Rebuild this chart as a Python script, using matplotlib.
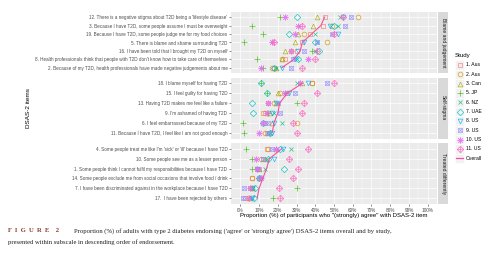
import matplotlib
matplotlib.use("Agg")
import matplotlib.pyplot as plt
from matplotlib.patches import Rectangle

# ---------------- data ----------------
subscales = ["Blame and judgement", "Self-stigma", "Treated differently"]
items_blame = [
    "12. There is a negative stigma about T2D being a 'lifestyle disease'",
    "3. Because I have T2D, some people assume I must be overweight",
    "19. Because I have T2D, some people judge me for my food choices",
    "5. There is blame and shame surrounding T2D",
    "16. I have been told that I brought my T2D on myself",
    "8. Health professionals think that people with T2D don't know how to take care of themselves",
    "2. Because of my T2D, health professionals have made negative judgements about me",
]
items_self = [
    "18. I blame myself for having T2D",
    "15. I feel guilty for having T2D",
    "13. Having T2D makes me feel like a failure",
    "9. I'm ashamed of having T2D",
    "6. I feel embarrassed because of my T2D",
    "11. Because I have T2D, I feel like I am not good enough",
]
items_treated = [
    "4. Some people treat me like I'm 'sick' or 'ill' because I have T2D",
    "10. Some people see me as a lesser person",
    "1. Some people think I cannot fulfil my responsibilities because I have T2D",
    "14. Some people exclude me from social occasions that involve food / drink",
    "7. I have been discriminated against in the workplace because I have T2D",
    "17.  I have been rejected by others",
]
study_names = ["1. Aus", "2. Aus", "3. Can", "5. JP", "6. NZ", "7. UAE",
               "8. US", "9. US", "10. US", "11. US"]

# values (%) in display order: blame (7), self-stigma (6), treated differently (6)
aus1 = [45, 44, 37, 33, 30, 24, 18, 38, 25, 15, 12, 13, 14, 14, 12, 10, 6, 5, 2.5]
aus2 = [63, 49, 34, 46, 27, 22, 17, 38, 21, 18, 13, 30, 13, 15, 11, 9, 6, 6, 4]
can = [41, 39, 31, 29, 24, 22, 19, 33, 20, 19, 16, 17, 15, 19, 13, 10, 10, 6, 5]
jp = [21, 6, 12, 2, 38, 9, 12, 11, 14, 30, 15, 1.5, 2, 3, 6, 6, 10, 30, 17.5]
nz = [53, 52, 40, 41, 40, 30, 19, 30, 24, 20, 18, 22, 16, 27, 14, 13, 11, 7, 6]
uae = [30, 50, 26, 40, 42, 31, 18, 11, 14, 6, 7, 12, 16, 21, 15, 23.5, 10, 8, 7.5]
us8 = [55, 48, 52, 34, 31, 29, 22, 36, 26, 19, 17, 18, 17, 23, 18, 9, 11, 6, 6]
us9 = [59, 56, 49, 41, 34, 28, 27, 46, 29, 20, 21, 15, 15, 17, 12, 9.5, 10, 2, 1.5]
us10 = [24, 31, 29, 17, 27, 36, 11, 32, 24, 15, 14, 12, 10, 19, 8.6, 9, 11, 5, 4.5]
us11 = [55, 33, 50, 18, 41, 40, 33, 50, 41, 34, 33, 28, 30, 36, 26, 31, 28, 20.5, 21]
overall = [45, 43, 38, 33, 32, 28.5, 22, 33, 25, 21, 20, 18, 17, 22, 15.5, 14, 12, 10, 9]

x_ticks = [0, 10, 20, 30, 40, 50, 60, 70, 80, 90, 100]
x_ticklabels = ["0%", "10%", "20%", "30%", "40%", "50%", "60%", "70%", "80%", "90%", "100%"]

# ---------------- style ----------------
colors = ["#F8766D", "#D89000", "#A3A500", "#39B600", "#00BF7D", "#00BFC4",
          "#00B0F6", "#9590FF", "#E76BF3", "#FF62BC"]
shapes = [
    [("s", 3.2)], [("o", 3.4)], [("^", 3.4)], [("+", 4.2)], [("x", 3.3)],
    [("D", 3.3)], [("v", 3.4)], [("s", 3.2), ("x", 3.2)], [((8, 2, 0), 4.2)],
    [("D", 3.3), ("+", 3.8)],
]
overall_color = "#F7509E"
study_vals = [aus1, aus2, can, jp, nz, uae, us8, us9, us10, us11]

W, H = 500, 259
plt.rcParams["font.family"] = ["Liberation Sans", "DejaVu Sans"]
fig = plt.figure(figsize=(W / 100, H / 100), dpi=100)
fig.patch.set_facecolor("white")

def fx(px):
    return px / W

def fy(py):
    return 1 - py / H

panel_left, panel_right = 231, 437
panel_rows = [(12, 73), (77.5, 138.5), (143, 204)]
groups = [items_blame, items_self, items_treated]

start = 0
for gi, (items, (top, bot)) in enumerate(zip(groups, panel_rows)):
    n = len(items)
    ax = fig.add_axes([fx(panel_left), fy(bot), fx(panel_right - panel_left), (bot - top) / H])
    ax.set_facecolor("#EBEBEB")
    for s in ax.spines.values():
        s.set_visible(False)
    ys = [n - i for i in range(n)]
    sl = slice(start, start + n)
    for k in range(len(study_vals)):
        vals = study_vals[k][sl]
        for mk, ms in shapes[k]:
            filled = mk in ("+", "x") or isinstance(mk, tuple)
            ax.plot(vals, ys, linestyle="none", marker=mk, markersize=ms,
                    markerfacecolor="none" if not filled else colors[k],
                    markeredgecolor=colors[k], markeredgewidth=0.5, alpha=0.85, zorder=3)
    ax.plot(overall[sl], ys, color=overall_color, linewidth=0.8, zorder=4)
    ax.set_xlim(-5, 105)
    ax.set_ylim(0.4, n + 0.6)
    ax.set_xticks(x_ticks)
    ax.set_xticks([5, 15, 25, 35, 45, 55, 65, 75, 85, 95], minor=True)
    ax.set_yticks(ys)
    ax.set_yticklabels(items)
    ax.grid(True, which="major", color="white", linewidth=0.5)
    ax.grid(True, which="minor", axis="x", color="white", linewidth=0.25)
    ax.set_axisbelow(True)
    ax.tick_params(axis="y", labelsize=3.3, length=1.6, width=0.4, color="#333333",
                   labelcolor="#4D4D4D", pad=1.0)
    ax.tick_params(axis="x", which="minor", length=0)
    if gi == 2:
        ax.set_xticklabels(x_ticklabels)
        ax.tick_params(axis="x", labelsize=3.4, length=1.6, width=0.4, color="#333333",
                       labelcolor="#4D4D4D", pad=1.0)
    else:
        ax.tick_params(axis="x", length=0, labelbottom=False)
    sax = fig.add_axes([fx(437.8), fy(bot), fx(10.5), (bot - top) / H])
    sax.set_facecolor("#D9D9D9")
    sax.set_xticks([]); sax.set_yticks([])
    for s in sax.spines.values():
        s.set_visible(False)
    sax.text(0.5, 0.5, subscales[gi], rotation=270, ha="center", va="center",
             fontsize=3.6, color="#1A1A1A", transform=sax.transAxes)
    start += n

fig.text(fx(28), fy(108), "DSAS-2 items", rotation=90, ha="center", va="center",
         fontsize=4.6, color="black")
fig.text(fx(334), fy(215), "Proportion (%) of participants who \"(strongly) agree\" with DSAS-2 item",
         ha="center", va="center", fontsize=4.3, color="black")

# legend
lax = fig.add_axes([0, 0, 1, 1])
lax.set_xlim(0, W); lax.set_ylim(H, 0)
lax.axis("off")
lax.patch.set_alpha(0)
lax.text(455, 56, "Study", fontsize=4.4, ha="left", va="center")
leg_labels = study_names + ["Overall"]
for i, lab in enumerate(leg_labels):
    y = 65 + 9.33 * i
    lax.add_patch(Rectangle((455.3, y - 4.6), 8.6, 9.2, facecolor="#F2F2F2", edgecolor="white", linewidth=0.4))
    if i < len(study_names):
        for mk, ms in shapes[i]:
            filled = mk in ("+", "x") or isinstance(mk, tuple)
            lax.plot([459.6], [y], linestyle="none", marker=mk, markersize=ms,
                     markerfacecolor="none" if not filled else colors[i],
                     markeredgecolor=colors[i], markeredgewidth=0.5, alpha=0.85)
    else:
        lax.plot([456, 463], [y, y], color=overall_color, linewidth=0.9)
    lax.text(466, y, lab, fontsize=3.6, ha="left", va="center", color="black")

# caption
cap_col = "#8C3B2B"
cap_y1, cap_y2 = 231, 242
fig.text(fx(8), fy(cap_y1), "F  I  G  U  R  E    2", fontsize=4.8, fontweight="bold", color=cap_col,
         family="Liberation Serif", ha="left", va="center")
fig.text(fx(74), fy(cap_y1),
         "Proportion (%) of adults with type 2 diabetes endorsing ('agree' or 'strongly agree') DSAS-2 items overall and by study,",
         fontsize=4.75, color="#231F20", family="Liberation Serif", ha="left", va="center")
fig.text(fx(8), fy(cap_y2), "presented within subscale in descending order of endorsement.",
         fontsize=4.75, color="#231F20", family="Liberation Serif", ha="left", va="center")

fig.savefig("out.png", dpi=100, facecolor="white")
